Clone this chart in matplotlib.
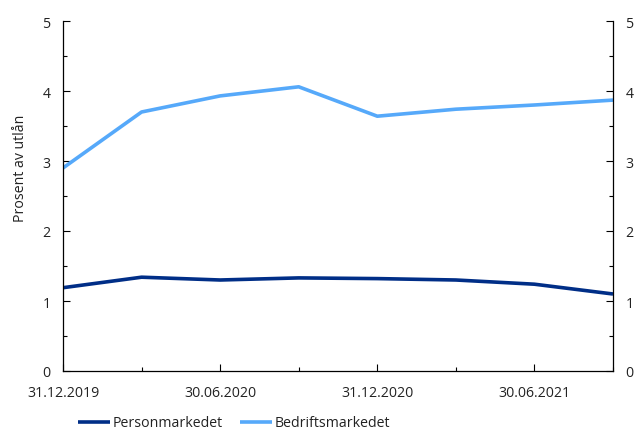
import matplotlib
matplotlib.use("Agg")
import matplotlib.pyplot as plt
from matplotlib.ticker import MultipleLocator, FixedLocator

plt.rcParams['font.family'] = ['Open Sans', 'DejaVu Sans']

dates = ["31.12.2019", "31.03.2020", "30.06.2020", "30.09.2020",
         "31.12.2020", "31.03.2021", "30.06.2021", "30.09.2021"]
personmarkedet = [1.19, 1.34, 1.30, 1.33, 1.32, 1.30, 1.24, 1.10]
bedriftsmarkedet = [2.90, 3.70, 3.93, 4.06, 3.64, 3.74, 3.80, 3.87]

dark_blue = "#002E87"
light_blue = "#56A9FA"
text_col = "#222222"
fs = 10.2

fig = plt.figure(figsize=(6.43, 4.31), dpi=100)
ax = fig.add_axes([63/643, 59/431, 550/643, 350/431])
x = list(range(len(dates)))
ax.plot(x, personmarkedet, color=dark_blue, lw=2.6, solid_capstyle='butt', label="Personmarkedet")
ax.plot(x, bedriftsmarkedet, color=light_blue, lw=2.6, solid_capstyle='butt', label="Bedriftsmarkedet")

ax.set_xlim(0, len(dates) - 1)
ax.set_ylim(0, 5)
ax.spines['top'].set_visible(False)
for s in ['left', 'right', 'bottom']:
    ax.spines[s].set_color("#000000")
    ax.spines[s].set_linewidth(0.9)

ax.xaxis.set_major_locator(FixedLocator(x[::2]))
ax.xaxis.set_minor_locator(FixedLocator(x[1::2]))
ax.set_xticklabels(dates[::2])
ax.yaxis.set_major_locator(MultipleLocator(1))
ax.yaxis.set_minor_locator(MultipleLocator(0.5))

ax.tick_params(axis='both', which='both', direction='in', colors="#000000",
               labelcolor=text_col, labelsize=fs)
ax.tick_params(axis='y', which='both', left=True, right=True, labelleft=True, labelright=True)
ax.tick_params(axis='both', which='major', length=5, width=0.8)
ax.tick_params(axis='both', which='minor', length=3, width=0.8)
ax.tick_params(axis='y', which='major', pad=9)
ax.tick_params(axis='x', which='major', pad=10)

ax.set_ylabel("Prosent av utlån", fontsize=fs, color=text_col)
ax.yaxis.set_label_coords(-0.063, 0.583)

fig.legend(loc='center left', bbox_to_anchor=(78/643, 1 - 424/431), ncol=2, frameon=False,
           fontsize=fs, handlelength=2.25, handletextpad=0.2, columnspacing=1.2,
           labelcolor=text_col, borderaxespad=0, borderpad=0)

fig.savefig("out.png", dpi=100)
